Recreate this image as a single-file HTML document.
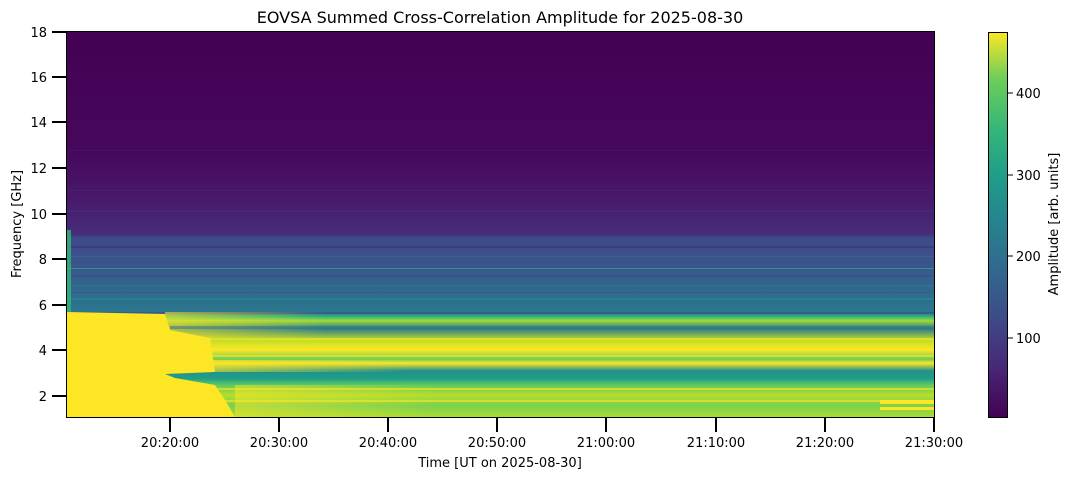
<!DOCTYPE html>
<html><head><style>
body{margin:0;background:#fff;}
svg text{font-family:"DejaVu Sans","Liberation Sans",sans-serif;fill:#000;}
</style></head><body>
<svg width="1073" height="479" viewBox="0 0 1073 479" xmlns="http://www.w3.org/2000/svg">
<defs>
<linearGradient id="bg" x1="0" y1="0" x2="0" y2="1">
<stop offset="0" stop-color="#440154"/>
<stop offset="0.31" stop-color="#46085c"/>
<stop offset="0.44" stop-color="#481a6c"/>
<stop offset="0.525" stop-color="#472d7b"/>
<stop offset="0.535" stop-color="#3e4a89"/>
<stop offset="0.59" stop-color="#3b528b"/>
<stop offset="0.65" stop-color="#33638d"/>
<stop offset="0.70" stop-color="#2d708e"/>
<stop offset="0.73" stop-color="#2a788e"/>
<stop offset="0.74" stop-color="#35b779"/>
<stop offset="0.75" stop-color="#a0da39"/>
<stop offset="0.77" stop-color="#2a788e"/>
<stop offset="0.80" stop-color="#bddf26"/>
<stop offset="0.825" stop-color="#fde725"/>
<stop offset="0.85" stop-color="#6ece58"/>
<stop offset="0.86" stop-color="#fde725"/>
<stop offset="0.88" stop-color="#21918c"/>
<stop offset="0.90" stop-color="#1f9e89"/>
<stop offset="0.917" stop-color="#5ec962"/>
<stop offset="0.943" stop-color="#b5de2b"/>
<stop offset="0.97" stop-color="#7ad151"/>
<stop offset="1" stop-color="#a8db34"/>
</linearGradient>
<linearGradient id="vir" x1="0" y1="1" x2="0" y2="0">
<stop offset="0" stop-color="#440154"/>
<stop offset="0.13" stop-color="#482878"/>
<stop offset="0.25" stop-color="#3e4989"/>
<stop offset="0.38" stop-color="#31688e"/>
<stop offset="0.5" stop-color="#26828e"/>
<stop offset="0.63" stop-color="#1f9e89"/>
<stop offset="0.75" stop-color="#35b779"/>
<stop offset="0.88" stop-color="#6ece58"/>
<stop offset="1" stop-color="#fde725"/>
</linearGradient>
<linearGradient id="fade" x1="0" y1="0" x2="1" y2="0">
<stop offset="0" stop-color="#fde725" stop-opacity="1"/>
<stop offset="1" stop-color="#fde725" stop-opacity="0"/>
</linearGradient>
<clipPath id="pc"><rect x="67" y="32" width="867" height="385"/></clipPath>
</defs>
<g clip-path="url(#pc)">
<rect x="67" y="32" width="867" height="385" fill="url(#bg)"/>
<g opacity="0.6">
<rect x="67" y="150" width="867" height="1" fill="#481a6c"/>
<rect x="67" y="190" width="867" height="1" fill="#482475"/>
<rect x="67" y="210" width="867" height="2" fill="#472d7b"/>
<rect x="67" y="246" width="867" height="2" fill="#472d7b"/>
<rect x="67" y="256" width="867" height="1" fill="#2c728e"/>
<rect x="67" y="262" width="867" height="2" fill="#3b528b"/>
<rect x="67" y="268" width="867" height="1" fill="#35b779"/>
<rect x="67" y="275" width="867" height="2" fill="#3e4a89"/>
<rect x="67" y="285" width="867" height="2" fill="#2a788e"/>
<rect x="67" y="292" width="867" height="1" fill="#3b528b"/>
<rect x="67" y="298" width="867" height="2" fill="#21918c"/>
<rect x="67" y="312" width="867" height="2" fill="#3e4a89"/>
<rect x="67" y="338" width="867" height="2" fill="#fde725"/>
<rect x="67" y="355" width="867" height="2" fill="#fde725"/>
<rect x="67" y="388" width="867" height="2" fill="#fde725"/>
<rect x="67" y="400" width="867" height="2" fill="#fde725"/>
</g>
<polygon points="67,312 165,314 170,330 210,338 215,372 165,374 175,378 215,385 225,400 235,417 67,417" fill="#fde725"/>
<rect x="165" y="312" width="160" height="26" fill="url(#fade)" opacity="0.6"/>
<rect x="210" y="360" width="200" height="12" fill="url(#fade)" opacity="0.6"/>
<rect x="235" y="385" width="200" height="32" fill="url(#fade)" opacity="0.5"/>
<rect x="67" y="230" width="4" height="82" fill="#35b779" opacity="0.8"/>
<rect x="170" y="326" width="764" height="3" fill="#2a788e" opacity="0.5"/>
<rect x="880" y="400" width="54" height="4" fill="#fde725"/>
<rect x="880" y="407" width="54" height="3" fill="#fde725"/>
</g>
<rect x="66.5" y="31.5" width="868" height="386" fill="none" stroke="#000" stroke-width="1"/>
<g stroke="#000" stroke-width="2">
<line x1="52" y1="32" x2="66" y2="32"/><line x1="52" y1="77" x2="66" y2="77"/>
<line x1="52" y1="122" x2="66" y2="122"/><line x1="52" y1="168" x2="66" y2="168"/>
<line x1="52" y1="214" x2="66" y2="214"/><line x1="52" y1="259" x2="66" y2="259"/>
<line x1="52" y1="305" x2="66" y2="305"/><line x1="52" y1="350" x2="66" y2="350"/>
<line x1="52" y1="396" x2="66" y2="396"/>
<line x1="170" y1="418" x2="170" y2="432"/><line x1="279" y1="418" x2="279" y2="432"/>
<line x1="388" y1="418" x2="388" y2="432"/><line x1="497" y1="418" x2="497" y2="432"/>
<line x1="606" y1="418" x2="606" y2="432"/><line x1="716" y1="418" x2="716" y2="432"/>
<line x1="825" y1="418" x2="825" y2="432"/><line x1="934" y1="418" x2="934" y2="432"/>
</g>
<g font-size="13" text-anchor="end">
<text x="47" y="37">18</text><text x="47" y="82">16</text><text x="47" y="127">14</text>
<text x="47" y="173">12</text><text x="47" y="219">10</text><text x="47" y="264">8</text>
<text x="47" y="310">6</text><text x="47" y="355">4</text><text x="47" y="401">2</text>
</g>
<g font-size="13" text-anchor="middle">
<text x="170" y="447">20:20:00</text><text x="279" y="447">20:30:00</text>
<text x="388" y="447">20:40:00</text><text x="497" y="447">20:50:00</text>
<text x="606" y="447">21:00:00</text><text x="716" y="447">21:10:00</text>
<text x="825" y="447">21:20:00</text><text x="934" y="447">21:30:00</text>
<text x="500" y="467">Time [UT on 2025-08-30]</text>
</g>
<text x="500" y="23" font-size="16" text-anchor="middle">EOVSA Summed Cross-Correlation Amplitude for 2025-08-30</text>
<text transform="translate(21,224) rotate(-90)" font-size="13" text-anchor="middle">Frequency [GHz]</text>
<rect x="988" y="32" width="19" height="385" fill="url(#vir)"/>
<rect x="988.5" y="32.5" width="19" height="385" fill="none" stroke="#000" stroke-width="1"/>
<g stroke="#000" stroke-width="1">
<line x1="1008" y1="93" x2="1013" y2="93"/><line x1="1008" y1="175" x2="1013" y2="175"/>
<line x1="1008" y1="256" x2="1013" y2="256"/><line x1="1008" y1="338" x2="1013" y2="338"/>
</g>
<g font-size="13">
<text x="1016" y="98">400</text><text x="1016" y="180">300</text>
<text x="1016" y="261">200</text><text x="1016" y="343">100</text>
</g>
<text transform="translate(1058,224) rotate(-90)" font-size="13" text-anchor="middle">Amplitude [arb. units]</text>
</svg>
</body></html>
